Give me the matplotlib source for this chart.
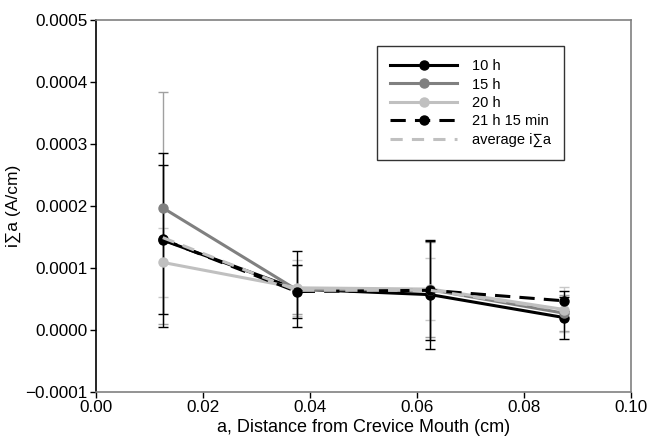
import matplotlib
matplotlib.use('agg')
import matplotlib.pyplot as plt
from matplotlib.ticker import FuncFormatter

plt.rcParams['font.family'] = ['Liberation Sans', 'DejaVu Sans']

# 位置 (cm)
a = [0.0125, 0.0375, 0.0625, 0.0875]

# 各時間の i∑a と誤差
i_10h = [0.000145, 0.000066, 0.000057, 0.000020]
e_10h = [0.000140, 0.000062, 0.000088, 0.000034]
i_15h = [0.000197, 0.000065, 0.000065, 0.000027]
e_15h = [0.000187, 0.000040, 0.000077, 0.000029]
i_20h = [0.000109, 0.000068, 0.000066, 0.000033]
e_20h = [0.000055, 0.000045, 0.000050, 0.000036]
i_21h = [0.000146, 0.000062, 0.000064, 0.000047]
e_21h = [0.000120, 0.000043, 0.000080, 0.000016]
i_avg = [0.000149, 0.000064, 0.000064, 0.000032]

fig = plt.figure(figsize=(6.48, 4.36), dpi=100)
ax = fig.add_axes([0.148, 0.101, 0.826, 0.853])

# 誤差棒
ax.errorbar(a, i_15h, yerr=e_15h, fmt='none', ecolor='#a0a0a0', elinewidth=1, capsize=3.3, zorder=1)
ax.errorbar(a, i_20h, yerr=e_20h, fmt='none', ecolor='#c8c8c8', elinewidth=1, capsize=3.3, zorder=1)
ax.errorbar(a, i_21h, yerr=e_21h, fmt='none', ecolor='black', elinewidth=1, capsize=3.3, zorder=1)
ax.errorbar(a, i_10h, yerr=e_10h, fmt='none', ecolor='black', elinewidth=1, capsize=3.3, zorder=1)

ax.plot(a, i_10h, '-o', color='black', lw=2.2, ms=6.5, label='10 h', zorder=3)
ax.plot(a, i_15h, '-o', color='#808080', lw=2.2, ms=6.5, label='15 h', zorder=3)
ax.plot(a, i_20h, '-o', color='#c0c0c0', lw=2.2, ms=6.5, label='20 h', zorder=3)
ax.plot(a, i_21h, '--o', color='black', lw=2.2, ms=6.5, dashes=(5, 3), label='21 h 15 min', zorder=4)
ax.plot(a, i_avg, '--', color='#c0c0c0', lw=2.2, dashes=(4, 3), label='average i∑a', zorder=5)

ax.set_xlim(0, 0.1)
ax.set_ylim(-0.0001, 0.0005)
ax.set_xticks([0.0, 0.02, 0.04, 0.06, 0.08, 0.10])
ax.set_yticks([-0.0001, 0.0, 0.0001, 0.0002, 0.0003, 0.0004, 0.0005])
ax.xaxis.set_major_formatter(FuncFormatter(lambda v, p: '%.2f' % v))
ax.yaxis.set_major_formatter(FuncFormatter(lambda v, p: ('%.4f' % v).replace('-', '\u2212')))
ax.tick_params(labelsize=12.3, direction='out', length=4, width=1, pad=2)
ax.set_xlabel('a, Distance from Crevice Mouth (cm)', fontsize=13, labelpad=2.5)
ax.set_ylabel('i∑a (A/cm)', fontsize=12.5, labelpad=3)

for s in ['top', 'right', 'bottom']:
    ax.spines[s].set_color('#808080')
ax.spines['left'].set_color('black')
for s in ax.spines.values():
    s.set_linewidth(1.2)

leg = ax.legend(loc='upper left', bbox_to_anchor=(0.525, 0.93), fontsize=10.5,
                frameon=True, fancybox=False, edgecolor='black', handlelength=4.6,
                handletextpad=1.0, labelspacing=0.3, borderpad=0.9, borderaxespad=0)
leg.get_frame().set_linewidth(1)

plt.savefig('out.png', dpi=100)
